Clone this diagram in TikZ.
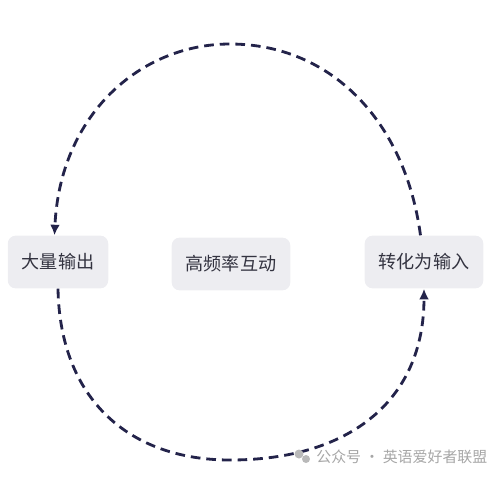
\documentclass[tikz,border=0pt]{standalone}
\usepackage{fontspec}
\newfontfamily\cjk{Noto Sans CJK SC}
\usetikzlibrary{arrows.meta}
\definecolor{boxgray}{HTML}{EDEDF1}
\definecolor{inkblue}{HTML}{23234A}
\definecolor{textgray}{HTML}{333340}

\begin{document}
\begin{tikzpicture}[x=0.02cm,y=-0.02cm,
  stage/.style={fill=boxgray,rounded corners=4.5pt,minimum height=30pt,inner xsep=8pt,font=\cjk\fontsize{10.3}{12}\selectfont,text=textgray},
  flow/.style={draw=inkblue,line width=1.6pt,dash pattern=on 5.5pt off 3.4pt,-{Latex[length=6pt,width=5.5pt]}}]
\useasboundingbox (0,0) rectangle (500,478);
\node[stage] (out) at (58,262) {大量输出};
\node[stage] (mid) at (231,264) {高频率互动};
\node[stage] (in) at (424,262) {转化为输入};
\coordinate (top) at (230,44);
\coordinate (bot) at (230,460);
\draw[flow] ([xshift=-2pt]in.north) .. controls (405,120) and (330,44) .. (top) .. controls (140,44) and (60,115) .. ([xshift=-2pt]out.north);
\draw[flow] (out.south) .. controls (60,400) and (130,460) .. (bot) .. controls (350,460) and (424,400) .. (in.south);
% watermark
\fill[gray!55] (299,454) circle (4.5);
\fill[gray!55] (306,459) circle (4);
\node[anchor=west,text=gray!70,font=\cjk\fontsize{8.5}{10}\selectfont,inner sep=0pt] (mark) at (316,457) {公众号 · 英语爱好者联盟};
\end{tikzpicture}
\end{document}
